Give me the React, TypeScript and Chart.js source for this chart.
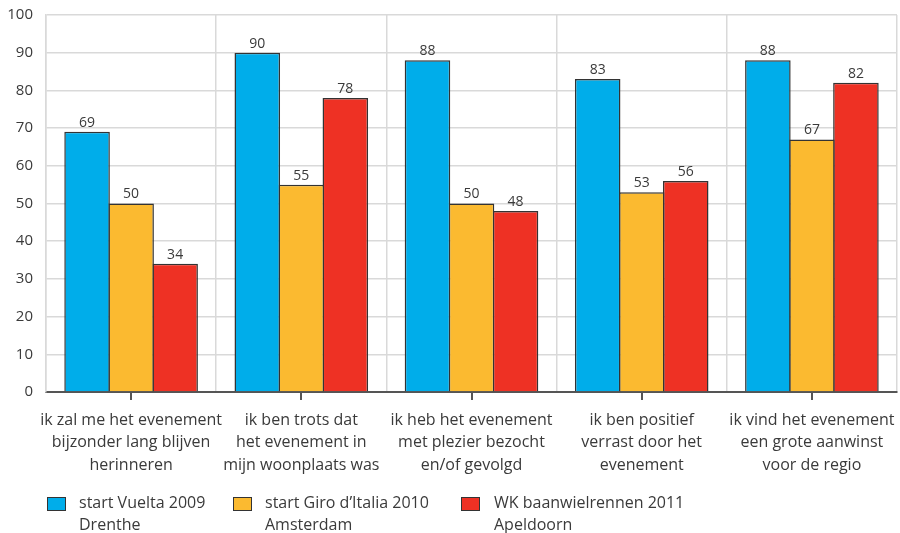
import React, { useEffect, useRef } from "react";
import { Chart, registerables } from "chart.js";

Chart.register(...registerables);

const categories: string[][] = [
  ["ik zal me het evenement", "bijzonder lang blijven", "herinneren"],
  ["ik ben trots dat", "het evenement in", "mijn woonplaats was"],
  ["ik heb het evenement", "met plezier bezocht", "en/of gevolgd"],
  ["ik ben positief", "verrast door het", "evenement"],
  ["ik vind het evenement", "een grote aanwinst", "voor de regio"],
];
const vuelta = [69, 90, 88, 83, 88];
const giro = [50, 55, 50, 53, 67];
const wk = [34, 78, 48, 56, 82];
const seriesNames: string[][] = [
  ["start Vuelta 2009", "Drenthe"],
  ["start Giro d\u2019Italia 2010", "Amsterdam"],
  ["WK baanwielrennen 2011", "Apeldoorn"],
];
const colors = ["#00ADEA", "#FBBA30", "#EE3124"];

const FONT = "'Open Sans', 'Noto Sans', sans-serif";
const TEXT = "#3a3a3a";

const valueLabels = {
  id: "valueLabels",
  afterDatasetsDraw(chart: any) {
    const ctx = chart.ctx;
    ctx.save();
    ctx.font = `14px ${FONT}`;
    ctx.fillStyle = TEXT;
    ctx.textAlign = "center";
    ctx.textBaseline = "bottom";
    chart.data.datasets.forEach((ds: any, di: number) => {
      const meta = chart.getDatasetMeta(di);
      meta.data.forEach((el: any, i: number) => {
        ctx.fillText(String(ds.data[i]), el.x, el.y - 2);
      });
    });
    ctx.restore();
  },
};

const centerTicks = {
  id: "centerTicks",
  afterDraw(chart: any) {
    const ctx = chart.ctx;
    const xs = chart.scales.x;
    const bottom = chart.chartArea.bottom;
    ctx.save();
    ctx.strokeStyle = "#555";
    ctx.lineWidth = 2;
    chart.data.labels.forEach((_: any, i: number) => {
      const x = Math.round(xs.getPixelForValue(i));
      ctx.beginPath();
      ctx.moveTo(x, bottom);
      ctx.lineTo(x, bottom + 8);
      ctx.stroke();
    });
    ctx.restore();
  },
};

export default function App() {
  const ref = useRef<HTMLCanvasElement | null>(null);
  useEffect(() => {
    if (!ref.current) return;
    const chart = new Chart(ref.current, {
      type: "bar",
      data: {
        labels: categories as any,
        datasets: [vuelta, giro, wk].map((d, i) => ({
          label: seriesNames[i].join(" "),
          data: d,
          backgroundColor: colors[i],
          borderColor: "#333",
          borderWidth: 1.5,
          categoryPercentage: 0.776,
          barPercentage: 1.035,
        })),
      },
      options: {
        animation: false,
        responsive: false,
        maintainAspectRatio: false,
        layout: { padding: { top: 15, right: 3, left: 0, bottom: 0 } },
        plugins: {
          legend: { display: false },
          tooltip: { enabled: false },
        },
        scales: {
          x: {
            grid: {
              offset: true,
              color: "#d9d9d9",
              lineWidth: 1.5,
              drawTicks: false,
            },
            border: { color: "#555", width: 2 },
            ticks: {
              color: TEXT,
              font: { family: FONT, size: 16, lineHeight: 1.4 },
              padding: 17,
              maxRotation: 0,
              autoSkip: false,
            },
            afterFit(scale: any) {
              scale.height = 141;
              scale.paddingLeft = 0;
              scale.paddingRight = 0;
            },
          },
          y: {
            min: 0,
            max: 100,
            grid: { color: "#d9d9d9", lineWidth: 1.5, drawTicks: false },
            border: { color: "#d9d9d9", width: 1.5 },
            ticks: {
              stepSize: 10,
              color: TEXT,
              font: { family: FONT, size: 15 },
              padding: 13,
            },
            afterFit(scale: any) {
              scale.width = 46;
              scale.paddingTop = 0;
              scale.paddingBottom = 0;
            },
          },
        },
      },
      plugins: [valueLabels, centerTicks],
    });
    return () => chart.destroy();
  }, []);

  const boxLeft = [47, 233, 461];
  const textLeft = [79, 265, 494];
  return (
    <div style={{ position: "absolute", left: 0, top: 0, width: 900, height: 533, background: "#fff" }}>
      <canvas ref={ref} width={900} height={533} style={{ display: "block" }} />
      {seriesNames.map((lines, i) => (
        <React.Fragment key={i}>
          <div
            style={{
              position: "absolute",
              left: boxLeft[i],
              top: 497,
              width: 17,
              height: 12,
              background: colors[i],
              border: "1.5px solid #333",
            }}
          />
          <div
            style={{
              position: "absolute",
              left: textLeft[i],
              top: 491,
              fontFamily: FONT,
              fontSize: 16,
              lineHeight: "22px",
              color: TEXT,
              whiteSpace: "nowrap",
            }}
          >
            {lines.map((l, j) => (
              <div key={j}>{l}</div>
            ))}
          </div>
        </React.Fragment>
      ))}
    </div>
  );
}
